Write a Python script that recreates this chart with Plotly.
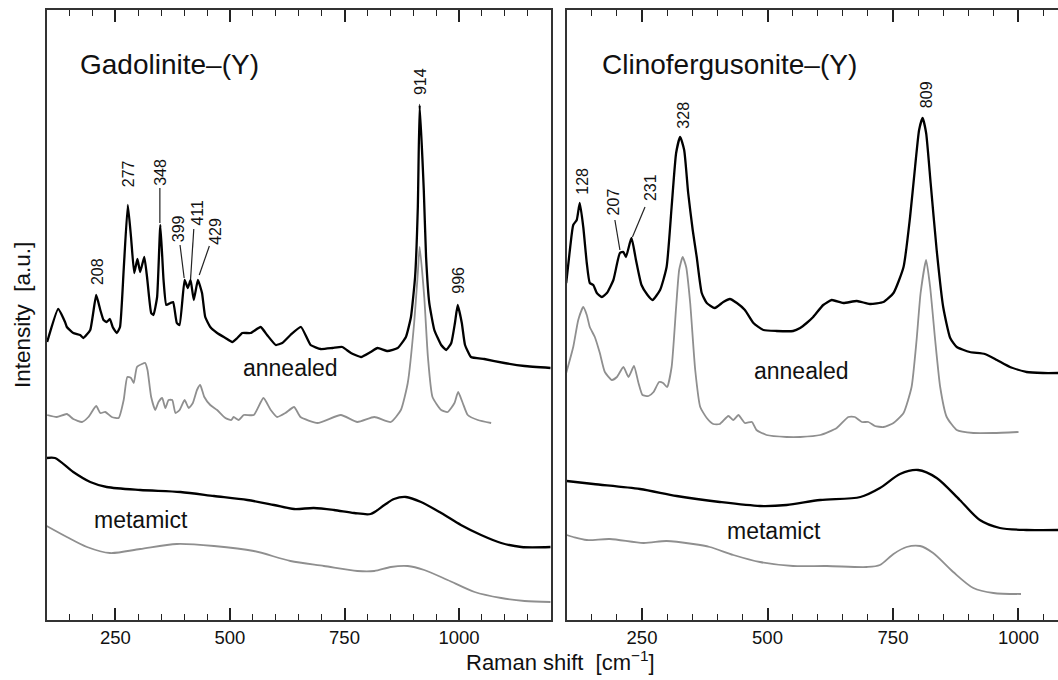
import plotly.graph_objects as go

# ---------------- data (wavenumber [cm-1], intensity [a.u., offset stacked]) ----------------
gad_ann_x = [101,125,140,144,158,173,180,195,208,217,224,231,238,244,253,260,268,277,284,291,298,304,313,319,328,333,341,348,355,361,370,376,384,390,401,408,414,421,430,439,446,457,472,490,505,516,527,545,567,581,600,614,632,655,676,698,724,745,764,786,807,822,844,866,884,895,904,910,914,923,928,935,946,961,972,983,991,997,1006,1013,1026,1055,1099,1143,1200]
gad_ann_y = [278,311,298,293,287,285,282,290,325,310,300,298,301,293,287,293,350,415,383,347,361,348,363,343,307,305,323,395,340,315,317,318,297,295,340,332,340,320,340,327,303,293,287,282,278,282,287,287,293,285,275,277,285,293,275,271,272,273,267,263,268,272,269,272,283,303,343,413,515,430,363,317,290,275,270,277,297,315,297,275,263,261,257,254,252]

gad_ann2_x = [101,122,144,158,177,191,208,217,228,242,257,268,276,284,290,297,308,315,320,328,337,344,352,359,366,374,381,390,401,410,419,428,435,444,457,472,490,503,508,519,530,552,573,589,603,621,640,654,691,742,778,815,851,873,888,902,910,914,924,932,942,961,975,990,998,1008,1019,1041,1070]
gad_ann2_y = [205,203,206,201,198,203,214,207,208,203,202,220,243,242,237,253,256,257,250,223,210,218,222,212,220,220,207,210,220,212,217,230,235,223,215,210,202,200,203,200,205,205,222,210,203,207,213,203,197,205,198,203,198,210,237,297,347,373,323,263,223,210,208,217,228,217,205,200,197]

gad_met_x = [100,118,158,195,231,304,392,465,538,596,640,683,727,771,807,837,858,884,917,961,1004,1048,1092,1136,1200]
gad_met_y = [162,162,148,138,133,130,128,124,120,115,111,112,110,107,106,115,121,123,118,107,95,85,77,73,73]

gad_met2_x = [100,144,188,238,304,384,465,552,632,705,778,815,851,888,924,975,1034,1092,1143,1200]
gad_met2_y = [94,83,73,67,71,76,74,69,59,54,49,49,53,54,50,40,28,22,19,18]

cli_ann_x = [99,107,113,120,126,133,140,146,153,160,170,180,193,206,213,218,229,238,249,261,271,286,299,309,318,326,334,342,351,359,369,379,395,412,425,439,455,472,492,518,551,565,578,591,611,628,651,678,704,731,751,771,784,794,802,809,816,825,837,850,864,877,903,933,957,983,1016,1049,1079]
cli_ann_y = [337,373,395,400,417,393,357,337,335,327,323,327,340,367,368,363,382,360,335,325,320,330,353,413,467,483,470,427,390,363,327,317,312,318,321,317,310,297,290,289,289,292,297,303,315,320,317,319,316,318,327,353,403,453,490,502,487,437,370,313,282,273,268,266,260,253,248,247,247]

cli_ann2_x = [99,113,123,133,140,146,156,166,176,190,200,213,223,234,243,251,263,273,284,292,300,309,318,324,331,338,346,356,366,379,392,405,422,432,442,455,469,478,498,538,565,605,638,661,674,688,701,714,731,751,771,787,797,805,816,824,834,844,857,877,910,950,1000]
cli_ann2_y = [247,273,300,313,305,293,283,267,248,240,243,253,243,254,237,225,224,228,238,237,233,253,313,350,363,353,317,250,213,202,196,196,204,200,205,197,198,190,185,183,183,185,192,203,203,198,198,194,193,197,207,233,280,327,360,333,280,233,203,190,187,187,188]

cli_met_x = [100,153,246,319,405,485,538,605,685,724,764,800,837,883,923,963,1016,1079]
cli_met_y = [139,136,131,124,118,114,115,120,123,132,146,150,142,120,100,92,90,90]

cli_met2_x = [100,113,140,186,253,299,352,385,432,485,551,618,698,724,751,777,804,830,870,910,950,1005]
cli_met2_y = [85,83,80,81,77,79,76,73,65,58,54,54,53,55,66,73,74,67,48,32,27,26]

# peak labels: text, label x, label y
gad_peaks = ["208", "277", "348", "399", "411", "429", "914", "996"]
gad_peak_lx = [210, 278, 347, 387, 427, 467, 915, 997]
gad_peak_ly = [348, 446, 448, 391, 407, 389, 538, 340]
cli_peaks = ["128", "207", "231", "328", "809"]
cli_peak_lx = [130, 193, 266, 331, 816]
cli_peak_ly = [439, 418, 432, 505, 525]

# leader lines: (x0, y0, x1, y1)
gad_leaders = [(347, 432, 347, 397), (391, 375, 400, 342), (421, 391, 414, 341), (455, 374, 433, 345)]
cli_leaders = [(196, 400, 206, 370), (256, 413, 231, 383)]

BLACK = "#000000"
GRAY = "#8f8f8f"
FONT = "Arial, Liberation Sans, Helvetica, sans-serif"

fig = go.Figure()

def add(x, y, color, width, xa, ya, smooth):
    fig.add_trace(go.Scatter(x=x, y=y, mode="lines",
                             line=dict(color=color, width=width, shape="spline", smoothing=smooth),
                             xaxis=xa, yaxis=ya, showlegend=False, hoverinfo="skip"))

add(gad_ann_x, gad_ann_y, BLACK, 2.3, "x", "y", 0.4)
add(gad_ann2_x, gad_ann2_y, GRAY, 1.8, "x", "y", 0.5)
add(gad_met_x, gad_met_y, BLACK, 2.3, "x", "y", 0.8)
add(gad_met2_x, gad_met2_y, GRAY, 1.8, "x", "y", 0.8)
add(cli_ann_x, cli_ann_y, BLACK, 2.3, "x2", "y2", 0.5)
add(cli_ann2_x, cli_ann2_y, GRAY, 1.8, "x2", "y2", 0.5)
add(cli_met_x, cli_met_y, BLACK, 2.3, "x2", "y2", 0.8)
add(cli_met2_x, cli_met2_y, GRAY, 1.8, "x2", "y2", 0.8)

W, H = 1058, 680
ML, MR, MT, MB = 0, 0, 10, 60
plot_h = H - MT - MB

def xaxis_cfg(domain, rng):
    return dict(domain=domain, range=rng, tick0=0, dtick=250, ticks="inside", ticklen=12,
                tickwidth=1.5, tickcolor="#222", showline=True, linewidth=2, linecolor="#333",
                mirror="allticks", showgrid=False, zeroline=False,
                tickfont=dict(family=FONT, size=18.5, color="#111"),
                minor=dict(ticks="inside", ticklen=6, tick0=0, dtick=50, tickwidth=1.2,
                           tickcolor="#222", showgrid=False))

def yaxis_cfg(anchor, mirror):
    return dict(domain=[0, 1], range=[0, 610], showline=True, linewidth=2, linecolor="#333",
                mirror=mirror, showticklabels=False, ticks="", showgrid=False, zeroline=False,
                anchor=anchor)

x1_dom = [46.7 / W, 550.7 / W]
x2_dom = [566.7 / W, 1.0]

fig.update_layout(
    width=W, height=H, margin=dict(l=ML, r=MR, t=MT, b=MB),
    plot_bgcolor="white", paper_bgcolor="white",
    xaxis=xaxis_cfg(x1_dom, [100, 1200]),
    yaxis=yaxis_cfg("x", True),
    xaxis2=dict(xaxis_cfg(x2_dom, [100, 1078.7]), anchor="y2"),
    yaxis2=yaxis_cfg("x2", False),
)
fig.layout.xaxis.anchor = "y"

ann = []
def pap_y(py):
    return (H - MB - py) / plot_h

# panel titles
ann.append(dict(text="Gadolinite–(Y)", x=78.3 / W, y=pap_y(64), xref="paper", yref="paper",
                xanchor="left", yanchor="middle", showarrow=False,
                font=dict(family=FONT, size=28, color="#111")))
ann.append(dict(text="Clinofergusonite–(Y)", x=600 / W, y=pap_y(64), xref="paper", yref="paper",
                xanchor="left", yanchor="middle", showarrow=False,
                font=dict(family=FONT, size=28, color="#111")))
# axis titles
ann.append(dict(text="Intensity  [a.u.]", x=22 / W, y=0.5, xref="paper", yref="paper",
                textangle=-90, xanchor="center", yanchor="middle", showarrow=False,
                font=dict(family=FONT, size=22.5, color="#111")))
ann.append(dict(text="Raman shift  [cm<sup>−1</sup>]", x=560 / W, y=pap_y(661), xref="paper", yref="paper",
                xanchor="center", yanchor="middle", showarrow=False,
                font=dict(family=FONT, size=22, color="#111")))
# series labels
for txt, x, y, xr, yr in [("annealed", 633, 252, "x", "y"), ("metamict", 306, 100, "x", "y"),
                          ("annealed", 568, 249, "x2", "y2"), ("metamict", 512, 89, "x2", "y2")]:
    ann.append(dict(text=txt, x=x, y=y, xref=xr, yref=yr, xanchor="center", yanchor="middle",
                    showarrow=False, font=dict(family=FONT, size=23, color="#111")))
# peak labels
for txts, xs, ys, xr, yr in [(gad_peaks, gad_peak_lx, gad_peak_ly, "x", "y"),
                             (cli_peaks, cli_peak_lx, cli_peak_ly, "x2", "y2")]:
    for t, x, y in zip(txts, xs, ys):
        ann.append(dict(text=t, x=x, y=y, xref=xr, yref=yr, textangle=-90, xanchor="center",
                        yanchor="middle", showarrow=False,
                        font=dict(family=FONT, size=16, color="#111")))
fig.update_layout(annotations=ann)

shapes = []
for (x0, y0, x1, y1) in gad_leaders:
    shapes.append(dict(type="line", x0=x0, y0=y0, x1=x1, y1=y1, xref="x", yref="y",
                       line=dict(color="#222", width=1.2)))
for (x0, y0, x1, y1) in cli_leaders:
    shapes.append(dict(type="line", x0=x0, y0=y0, x1=x1, y1=y1, xref="x2", yref="y2",
                       line=dict(color="#222", width=1.2)))
fig.update_layout(shapes=shapes)

fig.write_html("out.html")
